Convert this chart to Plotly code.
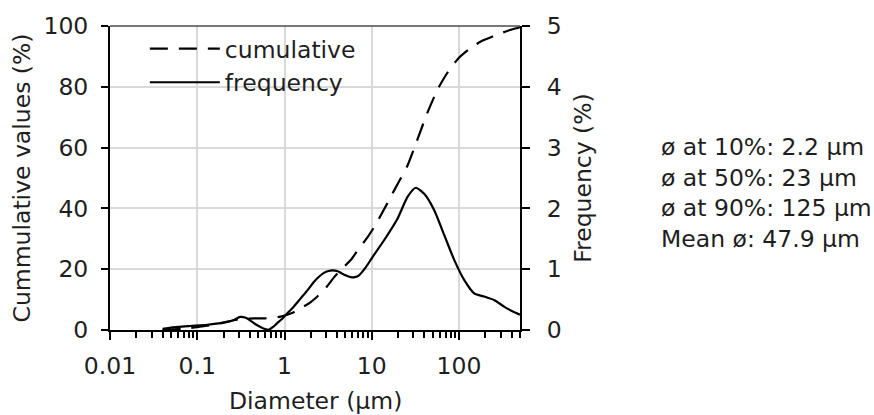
import plotly.graph_objects as go

# ---- data ----
diam_freq = [0.04, 0.06, 0.083, 0.13, 0.2, 0.26, 0.31, 0.36, 0.41, 0.47, 0.53, 0.6, 0.66,
             0.74, 0.82, 0.95, 1.07, 1.25, 1.53, 1.85, 2.17, 2.5, 2.83, 3.2, 3.53, 4.0, 4.4,
             5.0, 5.74, 6.4, 7.15, 8.53, 10.2, 13.9, 19.7, 25.7, 32, 39.9, 52, 67.8, 88.3,
             115, 150, 195, 255, 332, 420, 500]
frequency = [0.02, 0.05, 0.066, 0.085, 0.12, 0.16, 0.215, 0.2, 0.15, 0.09, 0.05, 0.015, 0.005,
             0.05, 0.11, 0.19, 0.27, 0.37, 0.52, 0.66, 0.79, 0.88, 0.94, 0.97, 0.98, 0.97, 0.94,
             0.9, 0.87, 0.87, 0.9, 1.03, 1.2, 1.48, 1.83, 2.19, 2.34, 2.24, 1.97, 1.56, 1.15,
             0.82, 0.6, 0.55, 0.49, 0.38, 0.3, 0.25]

diam_cum = [0.04, 0.08, 0.13, 0.2, 0.26, 0.31, 0.45, 0.6, 0.75, 0.9, 1.2, 1.53, 2.0, 2.38, 3.0,
            3.69, 4.5, 5.74, 7.0, 8.93, 11, 13.9, 17, 20, 25.7, 33.5, 43.6, 57, 74, 96.5, 131,
            180, 255, 350, 473, 500]
cumulative = [0, 0.6, 1.4, 2.4, 3.2, 3.6, 3.8, 3.85, 4.0, 4.4, 5.5, 7.1, 9.2, 11.0, 14.0,
              17.3, 20.0, 23.0, 26.5, 30.5, 34.5, 39.8, 44.5, 48.3, 54.1, 62.8, 71.6, 79.2, 84.7,
              89.1, 92.4, 95.0, 96.8, 98.3, 99.4, 99.6]

x_tickvals = [0.01, 0.1, 1, 10, 100]
x_ticktext = ["0.01", "0.1", "1", "10", "100"]
x_title = "Diameter (µm)"
stats_lines = ["ø at 10%: 2.2 µm", "ø at 50%: 23 µm", "ø at 90%: 125 µm", "Mean ø: 47.9 µm"]

FONT = "DejaVu Sans"
FS = 23.5
TXT = "#1e1e1e"

fig = go.Figure()
fig.add_trace(go.Scatter(
    x=diam_cum, y=cumulative, name="cumulative", mode="lines",
    line=dict(color="black", width=2.2, dash="18px,11px", shape="spline", smoothing=0.6),
    yaxis="y"))
fig.add_trace(go.Scatter(
    x=diam_freq, y=frequency, name="frequency", mode="lines",
    line=dict(color="black", width=2.2, shape="spline", smoothing=0.6),
    yaxis="y2"))

fig.update_layout(
    width=874, height=415,
    margin=dict(l=110, r=354, t=24, b=85, pad=0),
    paper_bgcolor="white", plot_bgcolor="white",
    font=dict(family=FONT, size=FS, color=TXT),
    showlegend=True,
    legend=dict(x=0.085, y=0.997, xanchor="left", yanchor="top",
                bgcolor="rgba(0,0,0,0)", font=dict(size=FS, color=TXT),
                itemwidth=70, tracegroupgap=0),
    xaxis=dict(
        type="log", range=[-2, 2.69897],
        tickmode="array", tickvals=x_tickvals, ticktext=x_ticktext,
        ticks="outside", ticklen=8, tickwidth=2, tickcolor="black",
        ticklabelstandoff=6,
        showline=True, linecolor="black", linewidth=2,
        showgrid=True, gridcolor="#d9d9d9", gridwidth=1.5,
        zeroline=False,
        minor=dict(ticks="outside", ticklen=6, tickwidth=2, tickcolor="black",
                   dtick="D1", showgrid=False),
        tickfont=dict(size=FS, color=TXT),
    ),
    yaxis=dict(
        range=[0, 100], dtick=20,
        ticks="outside", ticklen=7, tickwidth=2, tickcolor="black",
        ticklabelstandoff=8,
        showline=True, linecolor="black", linewidth=2,
        showgrid=True, gridcolor="#d9d9d9", gridwidth=1.5,
        zeroline=False,
        tickfont=dict(size=FS, color=TXT),
        title=dict(text="Cummulative values (%)", font=dict(size=FS, color=TXT), standoff=6),
    ),
    yaxis2=dict(
        range=[0, 5], dtick=1, overlaying="y", side="right",
        ticks="outside", ticklen=8, tickwidth=2, tickcolor="black",
        ticklabelstandoff=12,
        showline=True, linecolor="black", linewidth=2,
        showgrid=False, zeroline=False,
        tickfont=dict(size=FS, color=TXT),
        title=dict(text="Frequency (%)", font=dict(size=FS, color=TXT), standoff=14),
    ),
)

# top frame line of the plot area
fig.add_shape(type="line", xref="paper", yref="paper", x0=0, x1=1, y0=1, y1=1,
              line=dict(color="#4a4a4a", width=1.5), layer="above")

# x-axis title (as annotation so it can sit at the very bottom without margin push)
fig.add_annotation(
    xref="paper", yref="paper", x=0.5, y=-0.232, xanchor="center", yanchor="middle",
    showarrow=False, text=x_title, font=dict(size=FS, color=TXT, family=FONT))

fig.add_annotation(
    xref="paper", yref="paper", x=1.34, y=0.45, xanchor="left", yanchor="middle",
    align="left", showarrow=False,
    text="<br>".join(stats_lines),
    font=dict(size=FS, color=TXT, family=FONT))

fig.write_html("out.html", config={"displayModeBar": False},
               post_script="document.body.style.margin='0px';")
